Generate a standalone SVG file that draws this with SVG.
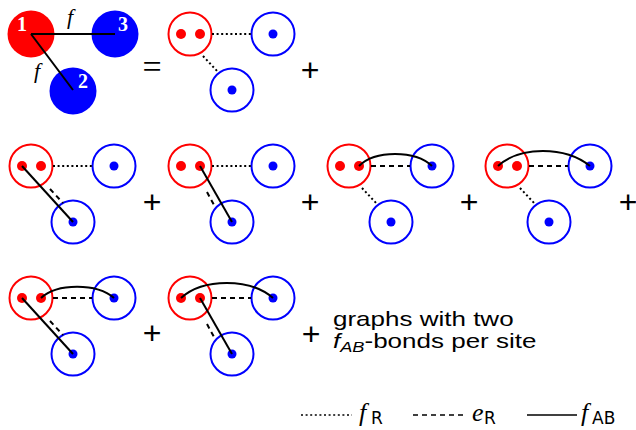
<svg xmlns="http://www.w3.org/2000/svg" width="636" height="430" viewBox="0 0 636 430">
<style>
.red{fill:none;stroke:#f00;stroke-width:2}
.blue{fill:none;stroke:#00f;stroke-width:2}
.rd{fill:#f00}
.bd{fill:#00f}
.fR{fill:none;stroke:#000;stroke-width:2;stroke-dasharray:2 2.6}
.eR{fill:none;stroke:#000;stroke-width:2;stroke-dasharray:5 4}
.fAB{fill:none;stroke:#000;stroke-width:2}
.num{font-family:"Liberation Serif",serif;font-weight:bold;font-size:20px;fill:#fff;text-anchor:middle}
.fi{font-family:"Liberation Serif",serif;font-style:italic;font-size:22px;fill:#000}
.lf{font-family:"Liberation Serif",serif;font-style:italic;font-size:26px;fill:#000}
.op{font-family:"Liberation Sans",sans-serif;font-size:32px;fill:#000;text-anchor:middle}
.sub{font-family:"DejaVu Sans",sans-serif;font-size:17px;fill:#000}
.lbl{font-family:"Liberation Sans",sans-serif;font-size:20px;fill:#000}
</style>
<g id="big-graph">
  <g id="site1"><circle cx="31" cy="34" r="23.5" class="rd"/><text x="22" y="31" class="num">1</text></g>
  <g id="site3"><circle cx="115" cy="34" r="23.5" class="bd"/></g>
  <g id="site2"><circle cx="73" cy="91" r="23.5" class="bd"/></g>
  <g id="big-bonds">
    <line x1="31" y1="34" x2="115" y2="34" class="fAB"/>
    <line x1="31" y1="34" x2="73" y2="90" class="fAB"/>
  </g>
  <text x="123" y="31" class="num">3</text>
  <text x="83" y="88" class="num">2</text>
  <text x="67" y="24" class="fi">f</text>
  <text x="34" y="78" class="fi">f</text>
</g>
<text x="152" y="78" class="op" style="font-family:'Liberation Serif',serif;font-size:34px">=</text>
<g id="nodes">
  <g id="d0-red"><circle cx="190" cy="34" r="21.5" class="red"/><circle cx="181" cy="34" r="5" class="rd"/><circle cx="200" cy="34" r="5" class="rd"/></g>
  <g id="d0-blueR"><circle cx="273" cy="34" r="21.5" class="blue"/><circle cx="273" cy="34" r="4.5" class="bd"/></g>
  <g id="d0-blueB"><circle cx="232" cy="90" r="21.5" class="blue"/><circle cx="232" cy="90" r="4.5" class="bd"/></g>

  <g id="d1-red"><circle cx="31" cy="166" r="21.5" class="red"/><circle cx="22" cy="166" r="5" class="rd"/><circle cx="41" cy="166" r="5" class="rd"/></g>
  <g id="d1-blueR"><circle cx="114" cy="166" r="21.5" class="blue"/><circle cx="114" cy="166" r="4.5" class="bd"/></g>
  <g id="d1-blueB"><circle cx="73" cy="222" r="21.5" class="blue"/><circle cx="73" cy="222" r="4.5" class="bd"/></g>

  <g id="d2-red"><circle cx="190" cy="166" r="21.5" class="red"/><circle cx="181" cy="166" r="5" class="rd"/><circle cx="200" cy="166" r="5" class="rd"/></g>
  <g id="d2-blueR"><circle cx="273" cy="166" r="21.5" class="blue"/><circle cx="273" cy="166" r="4.5" class="bd"/></g>
  <g id="d2-blueB"><circle cx="232" cy="222" r="21.5" class="blue"/><circle cx="232" cy="222" r="4.5" class="bd"/></g>

  <g id="d3-red"><circle cx="349" cy="166" r="21.5" class="red"/><circle cx="340" cy="166" r="5" class="rd"/><circle cx="359" cy="166" r="5" class="rd"/></g>
  <g id="d3-blueR"><circle cx="432" cy="166" r="21.5" class="blue"/><circle cx="432" cy="166" r="4.5" class="bd"/></g>
  <g id="d3-blueB"><circle cx="391" cy="222" r="21.5" class="blue"/><circle cx="391" cy="222" r="4.5" class="bd"/></g>

  <g id="d4-red"><circle cx="507" cy="166" r="21.5" class="red"/><circle cx="498" cy="166" r="5" class="rd"/><circle cx="517" cy="166" r="5" class="rd"/></g>
  <g id="d4-blueR"><circle cx="590" cy="166" r="21.5" class="blue"/><circle cx="590" cy="166" r="4.5" class="bd"/></g>
  <g id="d4-blueB"><circle cx="549" cy="222" r="21.5" class="blue"/><circle cx="549" cy="222" r="4.5" class="bd"/></g>

  <g id="d5-red"><circle cx="31" cy="298" r="21.5" class="red"/><circle cx="22" cy="298" r="5" class="rd"/><circle cx="41" cy="298" r="5" class="rd"/></g>
  <g id="d5-blueR"><circle cx="114" cy="298" r="21.5" class="blue"/><circle cx="114" cy="298" r="4.5" class="bd"/></g>
  <g id="d5-blueB"><circle cx="73" cy="354" r="21.5" class="blue"/><circle cx="73" cy="354" r="4.5" class="bd"/></g>

  <g id="d6-red"><circle cx="190" cy="298" r="21.5" class="red"/><circle cx="181" cy="298" r="5" class="rd"/><circle cx="200" cy="298" r="5" class="rd"/></g>
  <g id="d6-blueR"><circle cx="273" cy="298" r="21.5" class="blue"/><circle cx="273" cy="298" r="4.5" class="bd"/></g>
  <g id="d6-blueB"><circle cx="232" cy="354" r="21.5" class="blue"/><circle cx="232" cy="354" r="4.5" class="bd"/></g>
</g>
<g id="connectors">
  <line x1="212" y1="34" x2="251" y2="34" class="fR"/>
  <line x1="203" y1="56" x2="218" y2="72" class="fR"/>
  <line x1="53" y1="166" x2="92" y2="166" class="fR"/>
  <line x1="22" y1="166" x2="73" y2="222" class="fAB"/>
  <line x1="50" y1="189" x2="63" y2="203" class="eR"/>
  <line x1="212" y1="166" x2="251" y2="166" class="fR"/>
  <line x1="200" y1="166" x2="232" y2="222" class="fAB"/>
  <line x1="207" y1="192" x2="214" y2="205" class="eR"/>
  <line x1="371" y1="166" x2="410" y2="166" class="eR"/>
  <line x1="362" y1="188" x2="377" y2="204" class="fR"/>
  <path d="M359,166 C375,150 415,150 432,166" class="fAB"/>
  <line x1="529" y1="166" x2="568" y2="166" class="eR"/>
  <line x1="520" y1="188" x2="535" y2="204" class="fR"/>
  <path d="M498,166 C520,146 565,146 590,166" class="fAB"/>
  <line x1="53" y1="298" x2="92" y2="298" class="eR"/>
  <line x1="22" y1="298" x2="73" y2="354" class="fAB"/>
  <line x1="50" y1="321" x2="63" y2="335" class="eR"/>
  <path d="M41,298 C57,283 97,283 114,298" class="fAB"/>
  <line x1="212" y1="298" x2="251" y2="298" class="eR"/>
  <line x1="200" y1="298" x2="232" y2="354" class="fAB"/>
  <line x1="207" y1="324" x2="214" y2="337" class="eR"/>
  <path d="M181,298 C203,278 250,278 273,298" class="fAB"/>
</g>
<g id="operators">
  <text x="310" y="81" class="op">+</text>
  <text x="152" y="213" class="op">+</text>
  <text x="310" y="213" class="op">+</text>
  <text x="469" y="213" class="op">+</text>
  <text x="628" y="213" class="op">+</text>
  <text x="152" y="344" class="op">+</text>
  <text x="311" y="345" class="op">+</text>
</g>
<g id="note" transform="translate(333,0) scale(1.3,1)">
  <text x="0" y="326" class="lbl">graphs with two</text>
  <text x="0" y="348" class="lbl"><tspan font-style="italic">f</tspan><tspan font-style="italic" font-size="14" dy="4">AB</tspan><tspan dy="-4">-bonds per site</tspan></text>
</g>
<g id="legend">
  <line x1="301" y1="415" x2="352" y2="415" class="fR" style="stroke-width:1.5"/>
  <text x="359" y="421" class="lf">f</text><text x="371" y="424" class="sub">R</text>
  <line x1="413" y1="415" x2="464" y2="415" class="eR" style="stroke-width:1.5"/>
  <text x="472" y="421" class="lf">e</text><text x="484" y="424" class="sub">R</text>
  <line x1="527" y1="415" x2="577" y2="415" class="fAB" style="stroke-width:1.5"/>
  <text x="581" y="421" class="lf">f</text><text x="592" y="424" class="sub">AB</text>
</g>
</svg>
